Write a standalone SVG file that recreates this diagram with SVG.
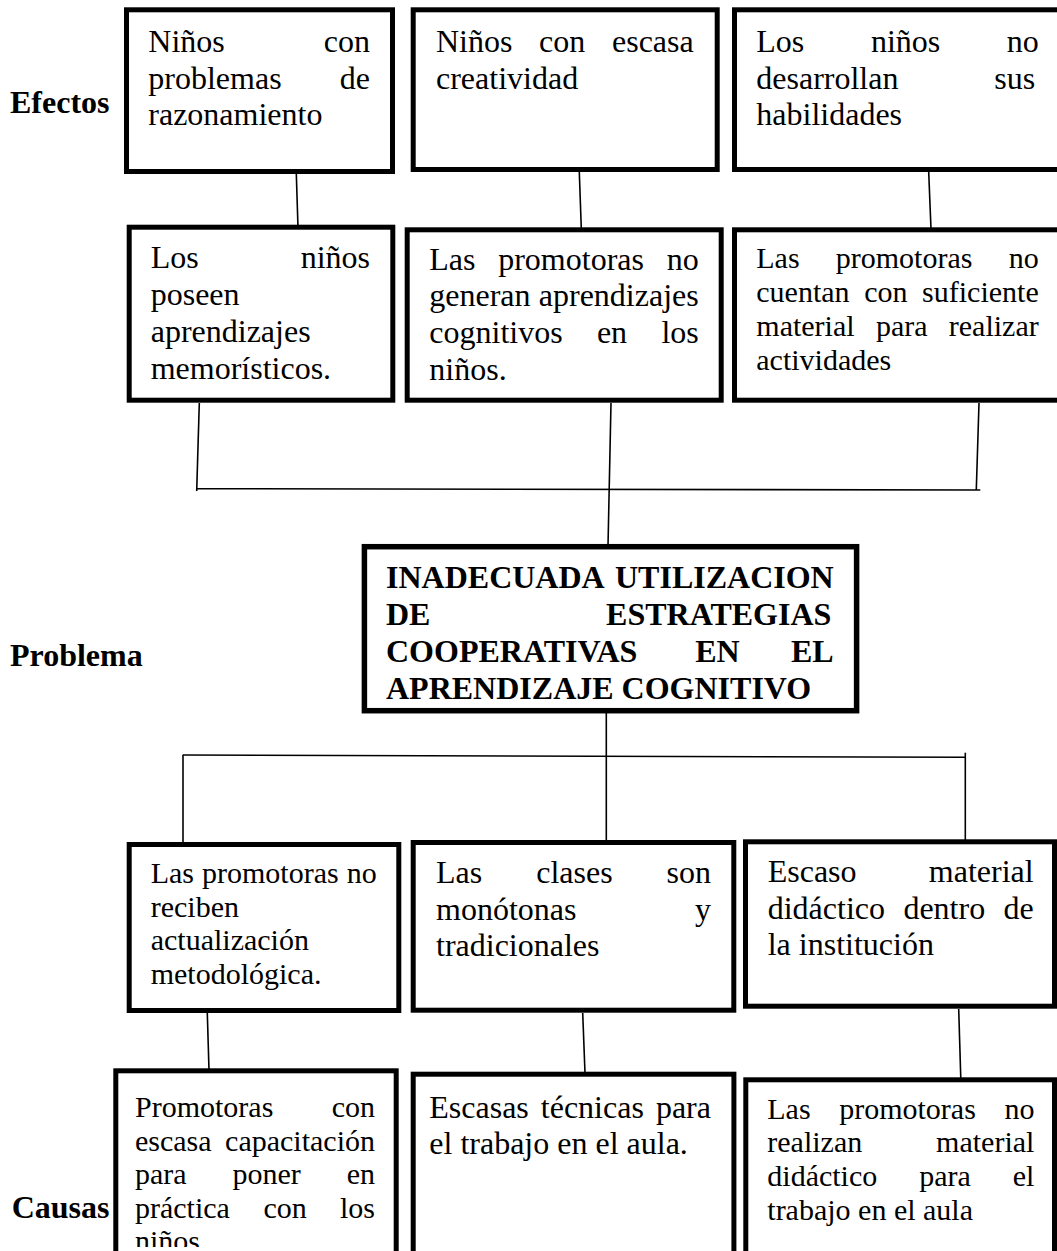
<svg xmlns="http://www.w3.org/2000/svg" width="1057" height="1251" viewBox="0 0 1057 1251">
<style>
.box{fill:#fff;stroke:#000;stroke-width:5}
.pbox{fill:#fff;stroke:#000;stroke-width:5.5}
.t{font-family:"Liberation Serif","Times New Roman",serif;font-size:32px;fill:#000}
.s{font-size:30px}
.b{font-weight:bold}
.c line{stroke:#000;stroke-width:1.6}
</style>
<defs>
<clipPath id="clip10"><rect x="0" y="1070" width="1057" height="177"/></clipPath>
</defs>
<rect width="1057" height="1251" fill="#fff"/>
<g class="c" id="connectors">
<line x1="296.3" y1="174" x2="298" y2="227"/>
<line x1="579.3" y1="172" x2="581.3" y2="229"/>
<line x1="928.7" y1="172" x2="931" y2="229"/>
<line x1="199.3" y1="403" x2="196.7" y2="491"/>
<line x1="196.7" y1="488.7" x2="980.3" y2="490"/>
<line x1="611" y1="403" x2="608" y2="546"/>
<line x1="979" y1="403" x2="976.3" y2="490"/>
<line x1="606.3" y1="713" x2="606.3" y2="842"/>
<line x1="182.7" y1="755" x2="966" y2="757.3"/>
<line x1="183" y1="755" x2="183" y2="844"/>
<line x1="965.3" y1="752.7" x2="965.3" y2="841"/>
<line x1="207.3" y1="1013" x2="209" y2="1070"/>
<line x1="582.7" y1="1013" x2="585" y2="1073"/>
<line x1="958.7" y1="1009" x2="960.8" y2="1079"/>
</g>
<g id="label-efectos"><text class="t b" x="10" y="113.3">Efectos</text></g>
<g id="label-problema"><text class="t b" x="10" y="665.7">Problema</text></g>
<g id="label-causas"><text class="t b" x="11.7" y="1218.3">Causas</text></g>
<g id="e1">
<rect class="box" x="126.5" y="9.8" width="266" height="161.7"/>
<text class="t"><tspan x="148.3" y="51.7">Niños</tspan><tspan x="323.8" y="51.7">con</tspan><tspan x="148.3" y="88.5">problemas</tspan><tspan x="339.8" y="88.5">de</tspan><tspan x="148.3" y="125.3">razonamiento</tspan></text>
</g>
<g id="e2">
<rect class="box" x="413.2" y="9.8" width="304" height="159.7"/>
<text class="t"><tspan x="436" y="51.7">Niños</tspan><tspan x="539.1" y="51.7">con</tspan><tspan x="612" y="51.7">escasa</tspan><tspan x="436" y="88.5">creatividad</tspan></text>
</g>
<g id="e3">
<rect class="box" x="734.5" y="9.8" width="330" height="159.7"/>
<text class="t"><tspan x="756.3" y="51.7">Los</tspan><tspan x="870.9" y="51.7">niños</tspan><tspan x="1006.7" y="51.7">no</tspan><tspan x="756.3" y="88.5">desarrollan</tspan><tspan x="994.3" y="88.5">sus</tspan><tspan x="756.3" y="125.3">habilidades</tspan></text>
</g>
<g id="e4">
<rect class="box" x="129.2" y="227.2" width="263.6" height="173"/>
<text class="t"><tspan x="150.7" y="268.3">Los</tspan><tspan x="300.7" y="268.3">niños</tspan><tspan x="150.7" y="305.1">poseen</tspan><tspan x="150.7" y="341.9">aprendizajes</tspan><tspan x="150.7" y="378.7">memorísticos.</tspan></text>
</g>
<g id="e5">
<rect class="box" x="407.2" y="229.8" width="314" height="170.4"/>
<text class="t"><tspan x="429.3" y="269.5">Las</tspan><tspan x="498.2" y="269.5">promotoras</tspan><tspan x="666.7" y="269.5">no</tspan><tspan x="429.3" y="306.3">generan</tspan><tspan x="538.8" y="306.3">aprendizajes</tspan><tspan x="429.3" y="343.1">cognitivos</tspan><tspan x="596.9" y="343.1">en</tspan><tspan x="661.4" y="343.1">los</tspan><tspan x="429.3" y="379.9">niños.</tspan></text>
</g>
<g id="e6">
<rect class="box" x="734.5" y="229.8" width="330" height="170.4"/>
<text class="t s"><tspan x="756.3" y="268.3">Las</tspan><tspan x="835.8" y="268.3">promotoras</tspan><tspan x="1008.7" y="268.3">no</tspan><tspan x="756.3" y="302.1">cuentan</tspan><tspan x="864.2" y="302.1">con</tspan><tspan x="922.1" y="302.1">suficiente</tspan><tspan x="756.3" y="335.9">material</tspan><tspan x="875.9" y="335.9">para</tspan><tspan x="948.8" y="335.9">realizar</tspan><tspan x="756.3" y="369.7">actividades</tspan></text>
</g>
<g id="problema">
<rect class="pbox" x="364.4" y="546.7" width="492.2" height="164"/>
<text class="t b"><tspan x="386" y="588.3">INADECUADA</tspan><tspan x="615" y="588.3">UTILIZACION</tspan><tspan x="386" y="625.1">DE</tspan><tspan x="606.1" y="625.1">ESTRATEGIAS</tspan><tspan x="386" y="661.9">COOPERATIVAS</tspan><tspan x="695.2" y="661.9">EN</tspan><tspan x="791" y="661.9">EL</tspan><tspan x="386" y="698.7">APRENDIZAJE COGNITIVO</tspan></text>
</g>
<g id="c1">
<rect class="box" x="129.2" y="844.5" width="269.6" height="166"/>
<text class="t s"><tspan x="150.7" y="882.7">Las</tspan><tspan x="202" y="882.7">promotoras</tspan><tspan x="346.7" y="882.7">no</tspan><tspan x="150.7" y="916.5">reciben</tspan><tspan x="150.7" y="950.3">actualización</tspan><tspan x="150.7" y="984.1">metodológica.</tspan></text>
</g>
<g id="c2">
<rect class="box" x="413.2" y="842.5" width="320.6" height="167.7"/>
<text class="t"><tspan x="436" y="882.7">Las</tspan><tspan x="536.2" y="882.7">clases</tspan><tspan x="666.6" y="882.7">son</tspan><tspan x="436" y="919.5">monótonas</tspan><tspan x="695" y="919.5">y</tspan><tspan x="436" y="956.3">tradicionales</tspan></text>
</g>
<g id="c3">
<rect class="box" x="745.5" y="841.8" width="309" height="164.4"/>
<text class="t"><tspan x="767.7" y="881.7">Escaso</tspan><tspan x="928.8" y="881.7">material</tspan><tspan x="767.7" y="918.5">didáctico</tspan><tspan x="903.4" y="918.5">dentro</tspan><tspan x="1003.5" y="918.5">de</tspan><tspan x="767.7" y="955.3">la institución</tspan></text>
</g>
<g id="c4">
<rect class="box" x="115.8" y="1070.8" width="280.4" height="200"/>
<text class="t s" clip-path="url(#clip10)"><tspan x="135" y="1117">Promotoras</tspan><tspan x="331.7" y="1117">con</tspan><tspan x="135" y="1150.5">escasa</tspan><tspan x="225.1" y="1150.5">capacitación</tspan><tspan x="135" y="1184">para</tspan><tspan x="232.5" y="1184">poner</tspan><tspan x="346.7" y="1184">en</tspan><tspan x="135" y="1217.5">práctica</tspan><tspan x="263.4" y="1217.5">con</tspan><tspan x="340" y="1217.5">los</tspan><tspan x="135" y="1251">niños</tspan></text>
</g>
<g id="c5">
<rect class="box" x="413.2" y="1074.2" width="320.7" height="200"/>
<text class="t"><tspan x="429.3" y="1117.5">Escasas</tspan><tspan x="540.8" y="1117.5">técnicas</tspan><tspan x="655.9" y="1117.5">para</tspan><tspan x="429.3" y="1154.3">el trabajo en el aula.</tspan></text>
</g>
<g id="c6">
<rect class="box" x="745.8" y="1079.8" width="308.7" height="200"/>
<text class="t s"><tspan x="767.3" y="1118.5">Las</tspan><tspan x="839.2" y="1118.5">promotoras</tspan><tspan x="1004.4" y="1118.5">no</tspan><tspan x="767.3" y="1152.2">realizan</tspan><tspan x="936.1" y="1152.2">material</tspan><tspan x="767.3" y="1185.9">didáctico</tspan><tspan x="919.2" y="1185.9">para</tspan><tspan x="1012.7" y="1185.9">el</tspan><tspan x="767.3" y="1219.6">trabajo en el aula</tspan></text>
</g>
</svg>
